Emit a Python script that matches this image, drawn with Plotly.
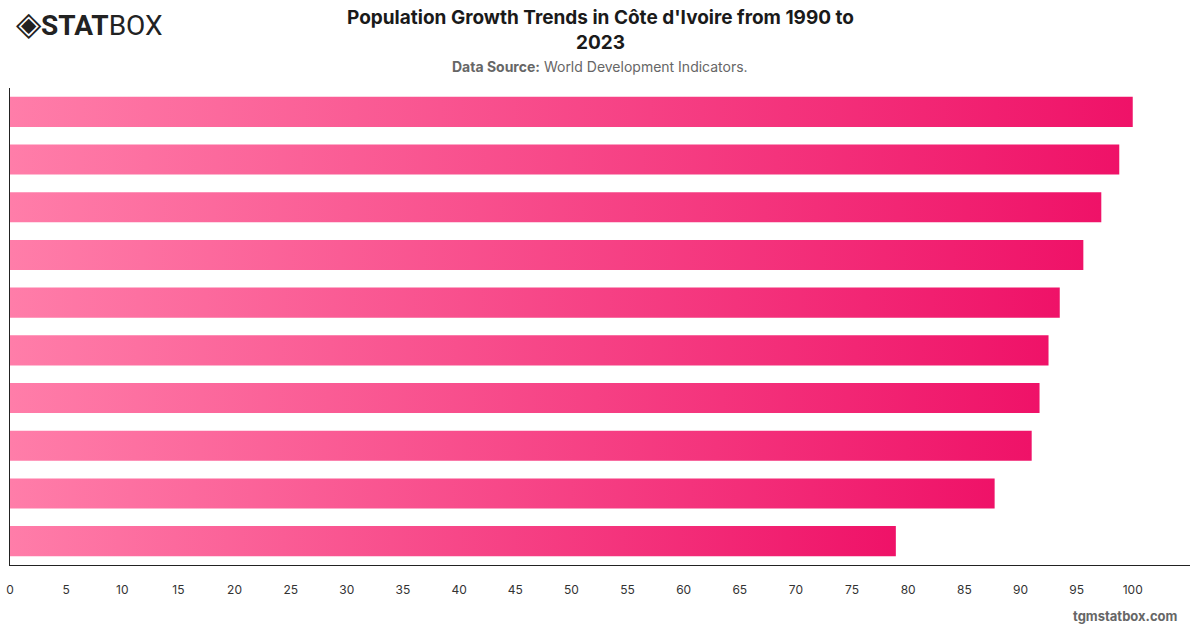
import plotly.graph_objects as go

# Data, top bar first
values = [100.0, 98.8, 97.2, 95.6, 93.5, 92.5, 91.7, 91.0, 87.7, 78.9]
x_ticks = list(range(0, 101, 5))

title_text = "Population Growth Trends in Côte d'Ivoire from 1990 to<br>2023"
subtitle_text = "<b>Data Source:</b> World Development Indicators."

color_light = "#FF7DA9"
color_deep = "#EF1268"
half = 0.315

fig = go.Figure()
for i, v in enumerate(values):
    fig.add_trace(go.Scatter(
        x=[0, v, v, 0, 0],
        y=[i - half, i - half, i + half, i + half, i - half],
        mode="lines",
        line=dict(width=0),
        fill="toself",
        fillgradient=dict(type="horizontal",
                          colorscale=[[0, color_light], [1, color_deep]]),
        hoverinfo="skip",
        showlegend=False,
    ))

L, T, PW, PH = 10, 88, 1180, 477

fig.update_layout(
    width=1200, height=628,
    margin=dict(l=L, r=1200 - L - PW, t=T, b=628 - T - PH),
    paper_bgcolor="white", plot_bgcolor="white",
    font=dict(family="Inter, Roboto, sans-serif", color="#333333"),
    xaxis=dict(range=[0, 105.1], tickvals=x_ticks, ticktext=[str(t) for t in x_ticks],
               showgrid=False, zeroline=False, showline=True, linecolor="#222222",
               linewidth=1, ticks="", tickfont=dict(size=12, color="#333333"),
               ticklabelstandoff=14, fixedrange=True, automargin=False),
    yaxis=dict(range=[9.5, -0.5], showticklabels=False, showgrid=False, zeroline=False,
               showline=True, linecolor="#222222", linewidth=1, ticks="", fixedrange=True,
               automargin=False),
)

fig.add_annotation(text="<b>" + title_text + "</b>", xref="paper", yref="paper",
                   x=(600 - L) / PW, y=1 + (T - 4) / PH, xanchor="center", yanchor="top",
                   showarrow=False, align="center",
                   font=dict(size=19, color="#1a1a1a", family="Inter, Roboto, sans-serif"))
fig.add_annotation(text=subtitle_text, xref="paper", yref="paper",
                   x=(600 - L) / PW, y=1 + (T - 56) / PH, xanchor="center", yanchor="top",
                   showarrow=False,
                   font=dict(size=14, color="#666666", family="Inter, Roboto, sans-serif"))
fig.add_annotation(text="<span style='font-size:33px'>◈</span><b>STAT</b>BOX", xref="paper", yref="paper",
                   x=(14 - L) / PW, y=1 + (T - 2) / PH, xanchor="left", yanchor="top",
                   showarrow=False,
                   font=dict(size=28, color="#222222", family="Roboto, sans-serif"))
fig.add_annotation(text="<b>tgmstatbox.com</b>", xref="paper", yref="paper",
                   x=(1180 - L) / PW, y=-(616 - T - PH) / PH, xanchor="right", yanchor="middle",
                   showarrow=False,
                   font=dict(size=13, color="#666666", family="Inter, Roboto, sans-serif"))

fig.write_html("out.html")
